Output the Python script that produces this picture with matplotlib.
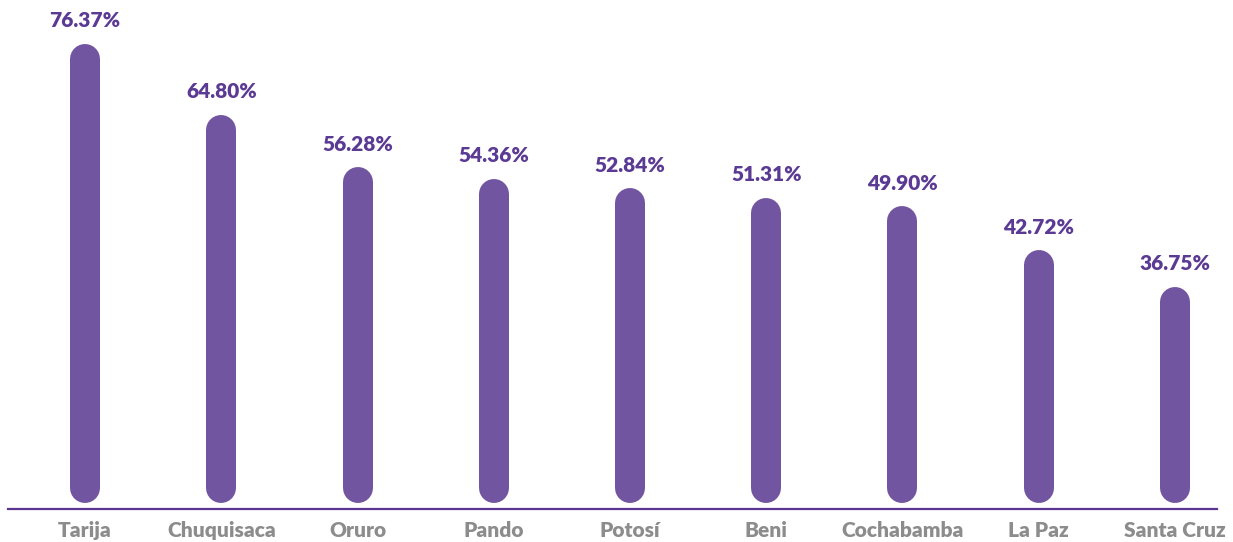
import numpy as np
import matplotlib.pyplot as plt

departments = ['Tarija', 'Chuquisaca', 'Oruro', 'Pando', 'Potosí', 'Beni',
               'Cochabamba', 'La Paz', 'Santa Cruz']
values = [76.37, 64.80, 56.28, 54.36, 52.84, 51.31, 49.90, 42.72, 36.75]

bar_color = '#7155a0'
text_color = '#5b3a93'
label_color = '#8c8c8c'

plt.rcParams['font.family'] = ['Lato', 'DejaVu Sans']

fig = plt.figure(figsize=(12.33, 5.42), dpi=100, facecolor='white')
ax = fig.add_axes([0, 0, 1, 1])
ax.set_xlim(-0.624, 8.426)
ax.set_ylim(-4.83, 83.55)
ax.axis('off')

# rounded bars: line with round caps, cap radius ~2.45 data units
cap = 2.45
base = 1.5
x = np.arange(len(departments))
for xi, v in zip(x, values):
    ax.plot([xi, xi], [base + cap, v - cap], color=bar_color, linewidth=21.6,
            solid_capstyle='round')
    ax.annotate(f'{v:.2f}%', (xi, v), xytext=(0, 12), textcoords='offset points',
                ha='center', va='baseline', fontsize=15, fontweight='heavy',
                color=text_color)
    ax.text(xi, -4.0, departments[xi], ha='center', va='baseline', fontsize=15,
            fontweight='heavy', color=label_color)

ax.axhline(0.55, xmin=0.0065, xmax=0.987, color='#5a3591', linewidth=1.6)

fig.savefig('out.png', dpi=100, facecolor='white')
